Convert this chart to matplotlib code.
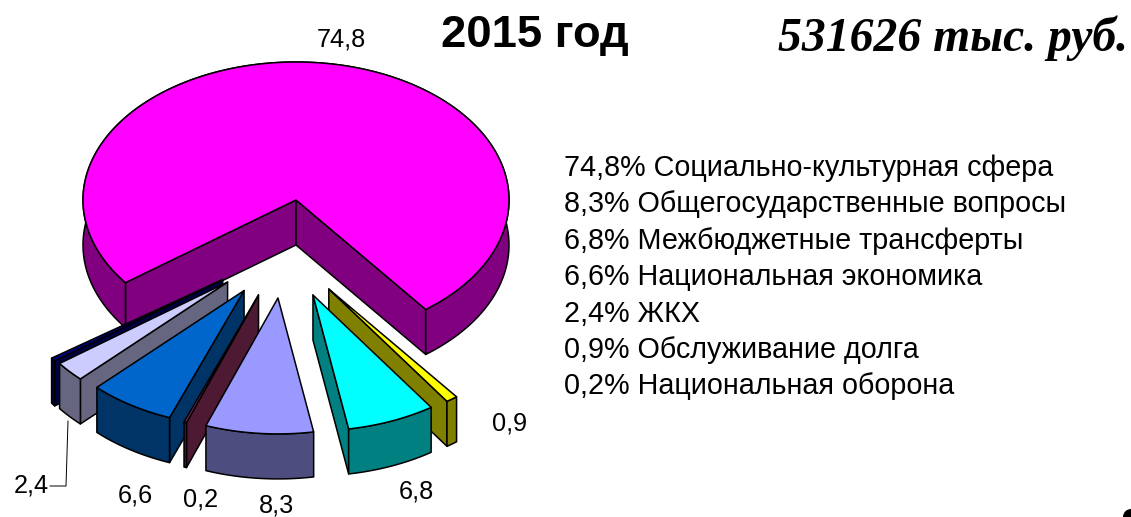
import numpy as np
import matplotlib
matplotlib.use("Agg")
import matplotlib.pyplot as plt
from matplotlib.patches import Circle

# slices in clockwise order, the last one is the unnamed dark sliver behind ЖКХ
names = ["Социально-культурная сфера", "Обслуживание долга", "Межбюджетные трансферты",
         "Общегосударственные вопросы", "Национальная оборона", "Национальная экономика",
         "ЖКХ", None]
values = [74.8, 0.9, 6.8, 8.3, 0.2, 6.6, 2.4, 0.4]
explode = [0.0, 0.663, 0.693, 0.715, 0.71, 0.70, 0.676, 0.671]

top_colors = ["#FF00FF", "#FFFF00", "#00FFFF", "#9999FF", "#993366", "#0066CC", "#CCCCFF", "#000080"]
wall_colors = ["#800080", "#808000", "#008080", "#4D4D80", "#4D1933", "#003366", "#666680", "#000040"]

title = "2015 год"
total_text = "531626 тыс. руб."

# pie geometry in figure pixels
cx, cy = 296, 200
rx, ry = 213, 138
depth = 45
start_angle = 216.8
exploded_scale = 0.985
draw_order = [0, 7, 6, 1, 5, 4, 2, 3]

label_pos = {0: (341, 40), 1: (510, 423), 2: (416, 492), 3: (276, 506),
             4: (201, 499), 5: (135, 495), 6: (31, 486)}

plt.rcParams["font.family"] = "Liberation Sans"

fig = plt.figure(figsize=(11.31, 5.17), dpi=100)
ax = fig.add_axes([0, 0, 1, 1])
ax.set_xlim(0, 1131)
ax.set_ylim(517, 0)
ax.axis("off")


def draw_slice(i, a0, a1):
    mid = (a0 + a1) / 2
    # the explosion direction is squeezed towards straight down, like the 3-D view in the original
    direction = np.radians(-49.9 + 0.493 * mid) if explode[i] > 0 else 0
    x0 = cx + explode[i] * rx * np.cos(direction)
    y0 = cy - explode[i] * ry * np.sin(direction)
    scale = exploded_scale if explode[i] > 0 else 1.0

    t = np.radians(np.linspace(a0, a1, 200))
    xs = x0 + scale * rx * np.cos(t)
    ys = y0 - scale * ry * np.sin(t)

    style = dict(edgecolor="black", linewidth=1.1, joinstyle="round")
    # cut faces, only the ones turned towards the viewer
    if np.cos(t[0]) < 0:
        ax.fill([x0, xs[0], xs[0], x0], [y0, ys[0], ys[0] + depth, y0 + depth],
                facecolor=wall_colors[i], **style)
    if np.cos(t[-1]) > 0:
        ax.fill([x0, xs[-1], xs[-1], x0], [y0, ys[-1], ys[-1] + depth, y0 + depth],
                facecolor=wall_colors[i], **style)
    # outer wall
    ax.fill(np.r_[xs, xs[::-1]], np.r_[ys, ys[::-1] + depth], facecolor=wall_colors[i], **style)
    # top
    ax.fill(np.r_[x0, xs], np.r_[y0, ys], facecolor=top_colors[i], **style)


edges = start_angle - np.cumsum([0] + values) * 3.6
for i in draw_order:
    draw_slice(i, edges[i], edges[i + 1])

# value labels
for i, (x, y) in label_pos.items():
    ax.text(x, y, f"{values[i]:.1f}".replace(".", ","), fontsize=18.2, ha="center", va="center")

# leader line for the ЖКХ label
ax.plot([68, 66, 50], [421, 486, 486], color="black", linewidth=0.7)

# list of categories on the right, largest first
order = sorted([i for i in range(len(values)) if names[i]], key=lambda i: -values[i])
for row, i in enumerate(order):
    text = f"{values[i]:.1f}".replace(".", ",") + "% " + names[i]
    ax.text(564, 168 + row * 36.4, text, fontsize=20.7, ha="left", va="center")

ax.text(535, 35, title, fontsize=32.7, fontweight="bold", ha="center", va="center")
ax.text(1128, 38, total_text, fontsize=34.3, fontweight="bold", fontstyle="italic",
        family="Liberation Serif", ha="right", va="center")

# black speck left in the corner of the original
ax.add_patch(Circle((1131, 517), 8, facecolor="black", edgecolor="none"))

fig.savefig("out.png", dpi=100)
